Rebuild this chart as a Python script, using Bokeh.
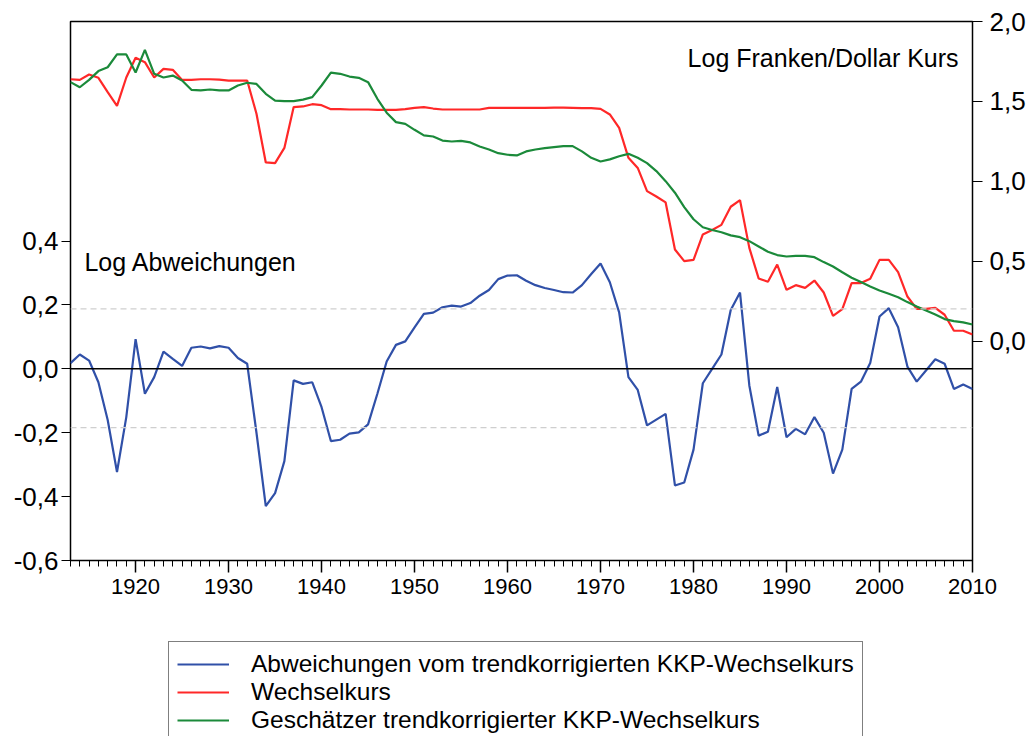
from bokeh.plotting import figure
from bokeh.layouts import column
from bokeh.models import (Range1d, LinearAxis, FixedTicker, CustomJSTickFormatter,
                          Span, Label, Legend, LegendItem, ColumnDataSource)
from bokeh.embed import file_html
from bokeh.resources import INLINE

# ---------------- data ----------------
years = list(range(1913, 2011))

abweichung = [
    0.018, 0.045, 0.026, -0.042, -0.160, -0.323, -0.151, 0.093, -0.078, -0.026,
    0.054, 0.031, 0.009, 0.066, 0.070, 0.064, 0.071, 0.066, 0.034, 0.016,
    -0.200, -0.430, -0.389, -0.289, -0.036, -0.047, -0.042, -0.120, -0.226, -0.222,
    -0.203, -0.199, -0.174, -0.078, 0.023, 0.075, 0.086, 0.130, 0.172, 0.176,
    0.193, 0.198, 0.195, 0.206, 0.229, 0.247, 0.281, 0.292, 0.293, 0.276,
    0.262, 0.253, 0.247, 0.240, 0.239, 0.262, 0.297, 0.330, 0.271, 0.177,
    -0.026, -0.066, -0.177, -0.159, -0.141, -0.365, -0.356, -0.253, -0.045, 0.000,
    0.045, 0.184, 0.239, -0.052, -0.209, -0.197, -0.057, -0.214, -0.188, -0.205,
    -0.151, -0.200, -0.328, -0.253, -0.063, -0.040, 0.018, 0.164, 0.190, 0.130,
    0.007, -0.040, -0.005, 0.030, 0.016, -0.063, -0.049, -0.063,
]

wechselkurs = [
    1.639, 1.635, 1.669, 1.648, 1.558, 1.473, 1.650, 1.773, 1.746, 1.650,
    1.704, 1.698, 1.635, 1.635, 1.639, 1.639, 1.637, 1.631, 1.631, 1.631,
    1.423, 1.119, 1.115, 1.210, 1.465, 1.469, 1.483, 1.477, 1.452, 1.452,
    1.450, 1.450, 1.450, 1.448, 1.448, 1.448, 1.452, 1.460, 1.465, 1.456,
    1.450, 1.450, 1.450, 1.450, 1.450, 1.460, 1.460, 1.460, 1.460, 1.460,
    1.460, 1.460, 1.462, 1.462, 1.460, 1.458, 1.458, 1.454, 1.419, 1.335,
    1.148, 1.085, 0.940, 0.906, 0.869, 0.575, 0.502, 0.510, 0.669, 0.697,
    0.729, 0.842, 0.883, 0.585, 0.394, 0.373, 0.481, 0.323, 0.352, 0.335,
    0.381, 0.306, 0.160, 0.202, 0.365, 0.365, 0.392, 0.510, 0.510, 0.433,
    0.281, 0.204, 0.204, 0.210, 0.167, 0.067, 0.067, 0.044,
]

kkp = [
    1.621, 1.589, 1.635, 1.690, 1.714, 1.794, 1.794, 1.681, 1.823, 1.673,
    1.650, 1.662, 1.631, 1.573, 1.569, 1.575, 1.569, 1.569, 1.600, 1.617,
    1.610, 1.548, 1.506, 1.502, 1.502, 1.512, 1.527, 1.600, 1.681, 1.673,
    1.656, 1.648, 1.621, 1.517, 1.430, 1.371, 1.360, 1.323, 1.288, 1.281,
    1.256, 1.250, 1.254, 1.244, 1.219, 1.200, 1.177, 1.167, 1.163, 1.188,
    1.200, 1.208, 1.215, 1.221, 1.221, 1.188, 1.148, 1.125, 1.138, 1.158,
    1.173, 1.148, 1.115, 1.065, 1.002, 0.930, 0.840, 0.764, 0.714, 0.697,
    0.683, 0.663, 0.652, 0.627, 0.594, 0.561, 0.540, 0.531, 0.535, 0.535,
    0.527, 0.496, 0.469, 0.433, 0.398, 0.371, 0.344, 0.319, 0.298, 0.277,
    0.246, 0.219, 0.194, 0.169, 0.140, 0.127, 0.119, 0.106,
]

band_levels = [0.1875, -0.184]
x_major_ticks = [1920, 1930, 1940, 1950, 1960, 1970, 1980, 1990, 2000, 2010]
left_ticks = [-0.6, -0.4, -0.2, 0.0, 0.2, 0.4]
right_ticks = [0.0, 0.5, 1.0, 1.5, 2.0]

series_names = ["Abweichungen vom trendkorrigierten KKP-Wechselkurs",
                "Wechselkurs",
                "Geschätzer trendkorrigierter KKP-Wechselkurs"]
series_colors = ["#3050A8", "#FF2828", "#1B8A3A"]

# ---------------- main figure ----------------
FONT = "Liberation Sans"

p = figure(width=1029, height=640, output_backend="svg", toolbar_location=None,
           x_range=Range1d(1913, 2010), y_range=Range1d(-0.6, 1.0875),
           min_border_left=70, min_border_right=57, min_border_top=21,
           min_border_bottom=80)
p.extra_y_ranges = {"right": Range1d(-1.369, 2.0)}
p.xgrid.visible = False
p.ygrid.visible = False
p.outline_line_color = "black"
p.outline_line_width = 1.5
p.background_fill_color = "white"
p.border_fill_color = "white"

src = ColumnDataSource(dict(year=years, dev=abweichung, fx=wechselkurs, ppp=kkp))

fmt = CustomJSTickFormatter(code="return tick.toFixed(1).replace('.', ',');")

# left axis
ly = p.yaxis[0]
ly.ticker = FixedTicker(ticks=left_ticks)
ly.formatter = fmt
ly.axis_line_color = None
ly.major_tick_out = 9
ly.major_tick_in = 0
ly.minor_tick_line_color = None
ly.major_label_standoff = 3
ly.major_label_text_font = FONT
ly.major_label_text_font_size = "26px"
ly.major_label_text_color = "black"

# right axis
ry = LinearAxis(y_range_name="right")
ry.ticker = FixedTicker(ticks=right_ticks)
ry.formatter = fmt
ry.axis_line_color = None
ry.major_tick_out = 10
ry.major_tick_in = 0
ry.minor_tick_line_color = None
ry.major_label_standoff = 7
ry.major_label_text_font = FONT
ry.major_label_text_font_size = "26px"
ry.major_label_text_color = "black"
p.add_layout(ry, "right")

# bottom axis
bx = p.xaxis[0]
bx.ticker = FixedTicker(ticks=x_major_ticks, minor_ticks=years)
bx.axis_line_color = None
bx.major_tick_out = 12
bx.major_tick_in = 0
bx.minor_tick_out = 6
bx.minor_tick_in = 0
bx.major_tick_line_width = 1.5
bx.minor_tick_line_color = "black"
bx.major_label_standoff = 6
bx.major_label_text_font = FONT
bx.major_label_text_font_size = "22px"
bx.major_label_text_color = "black"

# reference lines
for lvl in band_levels:
    p.add_layout(Span(location=lvl, dimension="width", line_color="#cfcfcf",
                      line_width=1.2, line_dash="6 4"))
p.add_layout(Span(location=0, dimension="width", line_color="black", line_width=1.5))

# series
p.line("year", "dev", source=src, line_color=series_colors[0], line_width=2.2)
p.line("year", "fx", source=src, line_color=series_colors[1], line_width=2.2,
       y_range_name="right")
p.line("year", "ppp", source=src, line_color=series_colors[2], line_width=2.2,
       y_range_name="right")

# in-plot labels
p.add_layout(Label(x=1914.5, y=0.334, text="Log Abweichungen",
                   text_font=FONT, text_font_size="25px", text_color="black",
                   text_baseline="alphabetic"))
p.add_layout(Label(x=2008.5, y=1.769, y_range_name="right",
                   text="Log Franken/Dollar Kurs", text_align="right",
                   text_font=FONT, text_font_size="25px", text_color="black",
                   text_baseline="alphabetic"))

# ---------------- legend strip ----------------
# its lines use the same data; the strip's ranges keep them out of view,
# so only the legend entries show.
q = figure(width=1029, height=96, output_backend="svg", toolbar_location=None,
           x_range=Range1d(0, 1), y_range=Range1d(0, 1),
           x_axis_location=None, y_axis_location=None,
           min_border_left=70, min_border_right=57, min_border_top=0,
           min_border_bottom=0)
q.xgrid.visible = False
q.ygrid.visible = False
q.outline_line_color = None
q.background_fill_color = "white"
q.border_fill_color = "white"

lr = [q.line("year", col, source=src, line_color=c, line_width=2.2)
      for col, c in zip(["dev", "fx", "ppp"], series_colors)]

legend = Legend(items=[LegendItem(label=n, renderers=[r])
                       for n, r in zip(series_names, lr)],
                location=(98, -7), orientation="vertical",
                label_text_font=FONT, label_text_font_size="24.5px",
                label_text_color="black", label_height=28, glyph_height=28,
                glyph_width=52, label_standoff=22, spacing=0, padding=8,
                margin=0, border_line_color="black", border_line_width=1.2,
                background_fill_color="white", background_fill_alpha=1.0)
q.add_layout(legend, "center")

layout = column(p, q, spacing=0)
open("out.html", "w").write(file_html(layout, INLINE))
